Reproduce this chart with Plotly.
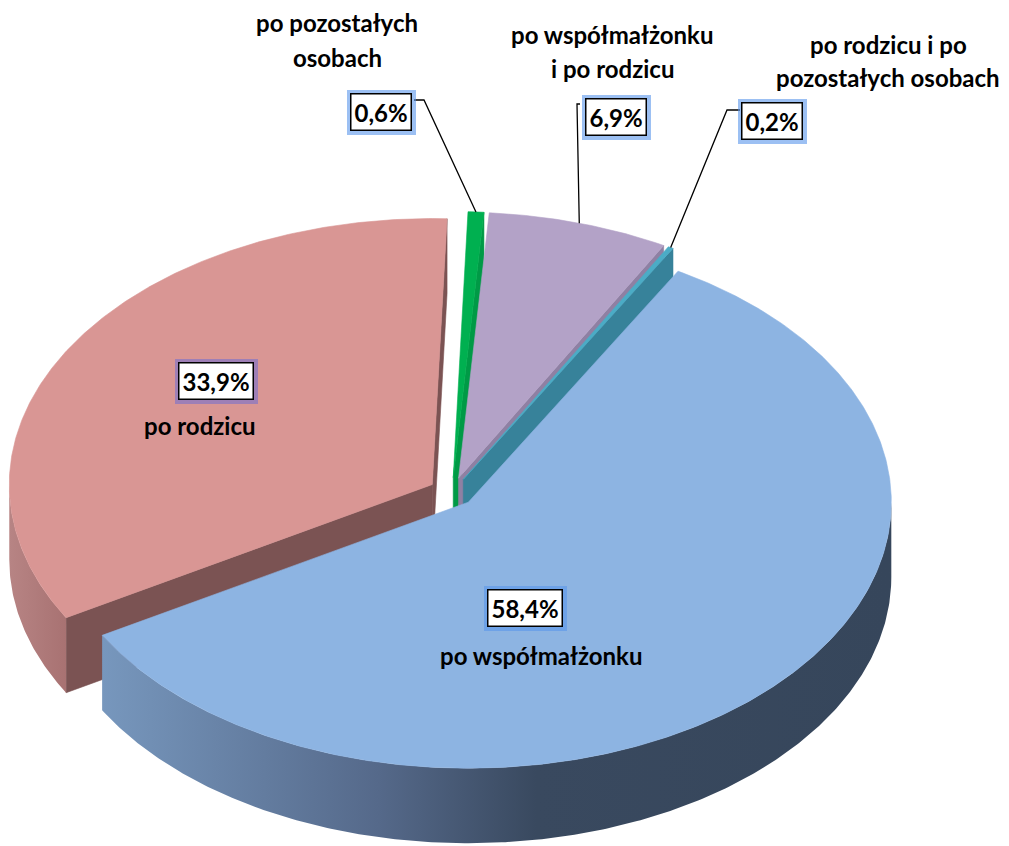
import numpy as np
import plotly.graph_objects as go

# ---- data ----
categories = ["po pozostałych osobach", "po współmałżonku i po rodzicu",
              "po rodzicu i po pozostałych osobach", "po współmałżonku", "po rodzicu"]
values = [0.6, 6.9, 0.2, 58.4, 33.9]
value_labels = ["0,6%", "6,9%", "0,2%", "58,4%", "33,9%"]
category_lines = [["po pozostałych", "osobach"],
                  ["po współmałżonku", "i po rodzicu"],
                  ["po rodzicu i po", "pozostałych osobach"],
                  ["po współmałżonku"],
                  ["po rodzicu"]]

# ---- styles / layout ----
top_colors = ["#00B050", "#B3A2C7", "#4BACC6", "#8DB4E2", "#D99694"]
wall_colors = ["#009A46", "#8F80A3", "#37829A", "#3A4B61", "#7B5353"]
outer_gradients = [None, None, None,
                   [[0, "#7797BD"], [0.35, "#55698A"], [0.55, "#39495F"], [1, "#36465B"]],
                   [[0, "#B78484"], [1, "#A87272"]]]
glow_colors = ["rgba(90,150,235,0.6)"] * 4 + ["rgba(110,110,210,0.55)"]

W, H = 1009, 846
PAD = 8                    # page body margin
CX, CY = 452, 492          # pie centre (px)
A, B = 423, 266            # ellipse radii
DEPTH = 75
EXPLODE = 23
START = 2.0                # rotation of first slice (deg, clockwise from 12 o'clock)

# label placement (value box centre, category text line centres)
box_pos = [(381, 112), (616, 117), (772, 121), (525, 608), (216, 381)]
cat_pos = [[(337, 22), (337, 57)], [(612, 34), (612, 68)], [(888, 44), (888, 77)],
           [(541, 655)], [(200, 425)]]
leader_start = [[(414, 100), (424, 100)], [(580, 104), (577, 104)],
                [(740, 110), (727, 110)], None, None]

FONT = "Lato"
FS = 24

total = sum(values)
edges = START + 360.0 * np.concatenate([[0.0], np.cumsum(values)]) / total


def rim(th, ox, oy, dz=0.0):
    r = np.radians(th)
    return ox + A * np.sin(r), oy - B * np.cos(r) + dz


def arc(t0, t1, ox, oy, dz=0.0):
    n = max(2, int(abs(t1 - t0) * 2) + 2)
    ts = np.linspace(t0, t1, n)
    return rim(ts, ox, oy, dz)


fig = go.Figure()

mids = [(edges[i] + edges[i + 1]) / 2 for i in range(len(values))]
order = sorted(range(len(values)), key=lambda i: -np.cos(np.radians(mids[i])))
offsets = []
for i in range(len(values)):
    m = np.radians(mids[i])
    offsets.append((CX + EXPLODE * np.sin(m), CY - EXPLODE * np.cos(m) * B / A))


def poly(xs, ys, color, grad=None):
    kw = dict(x=list(xs), y=list(ys), mode="lines", fill="toself",
              line=dict(width=0.6, color=color), fillcolor=color,
              hoverinfo="skip", showlegend=False)
    if grad is not None:
        kw["fillgradient"] = dict(type="horizontal", colorscale=grad)
        kw["line"] = dict(width=0)
    fig.add_trace(go.Scatter(**kw))


for i in order:
    ox, oy = offsets[i]
    t0, t1 = edges[i], edges[i + 1]
    # radial walls (front-facing only)
    for th, front in ((t0, np.sin(np.radians(t0)) < -1e-6),
                      (t1, np.sin(np.radians(t1)) > 1e-6)):
        if front:
            rx, ry = rim(th, ox, oy)
            poly([ox, rx, rx, ox, ox], [oy, ry, ry + DEPTH, oy + DEPTH, oy], wall_colors[i])
    # outer wall (front half only)
    f0, f1 = max(t0, 90.0), min(t1, 270.0)
    if f1 > f0:
        xt, yt = arc(f0, f1, ox, oy)
        xb, yb = arc(f0, f1, ox, oy, DEPTH)
        poly(np.concatenate([xt, xb[::-1], xt[:1]]), np.concatenate([yt, yb[::-1], yt[:1]]),
             wall_colors[i], outer_gradients[i])
    # top face
    xt, yt = arc(t0, t1, ox, oy)
    poly(np.concatenate([[ox], xt, [ox]]), np.concatenate([[oy], yt, [oy]]), top_colors[i])

# leader lines
for i in range(len(values)):
    if leader_start[i] is None:
        continue
    ox, oy = offsets[i]
    ex, ey = rim(mids[i], ox, oy)
    pts = leader_start[i] + [(ex, ey)]
    fig.add_trace(go.Scatter(x=[p[0] for p in pts], y=[p[1] for p in pts], mode="lines",
                             line=dict(color="black", width=1.3), hoverinfo="skip",
                             showlegend=False))

annotations = []
for i in range(len(values)):
    bx, by = box_pos[i]
    # glow
    annotations.append(dict(x=bx, y=by, xref="x", yref="y", showarrow=False,
                            text="<b>%s</b>" % value_labels[i],
                            font=dict(family=FONT, size=FS, color="rgba(0,0,0,0)"),
                            bgcolor=glow_colors[i], borderpad=8, borderwidth=0))
    annotations.append(dict(x=bx, y=by, xref="x", yref="y", showarrow=False,
                            text="<b>%s</b>" % value_labels[i],
                            font=dict(family=FONT, size=FS, color="black"),
                            bgcolor="white", bordercolor="black", borderwidth=1.5,
                            borderpad=3))
    for (tx, ty), line in zip(cat_pos[i], category_lines[i]):
        annotations.append(dict(x=tx, y=ty, xref="x", yref="y", showarrow=False,
                                text="<b>%s</b>" % line,
                                font=dict(family=FONT, size=FS, color="black")))

fig.update_layout(
    width=W - PAD, height=H - PAD, margin=dict(l=0, r=0, t=0, b=0),
    paper_bgcolor="white", plot_bgcolor="white",
    xaxis=dict(range=[PAD, W], visible=False, fixedrange=True),
    yaxis=dict(range=[H, PAD], visible=False, fixedrange=True),
    annotations=annotations, showlegend=False,
)

fig.write_html("out.html")
